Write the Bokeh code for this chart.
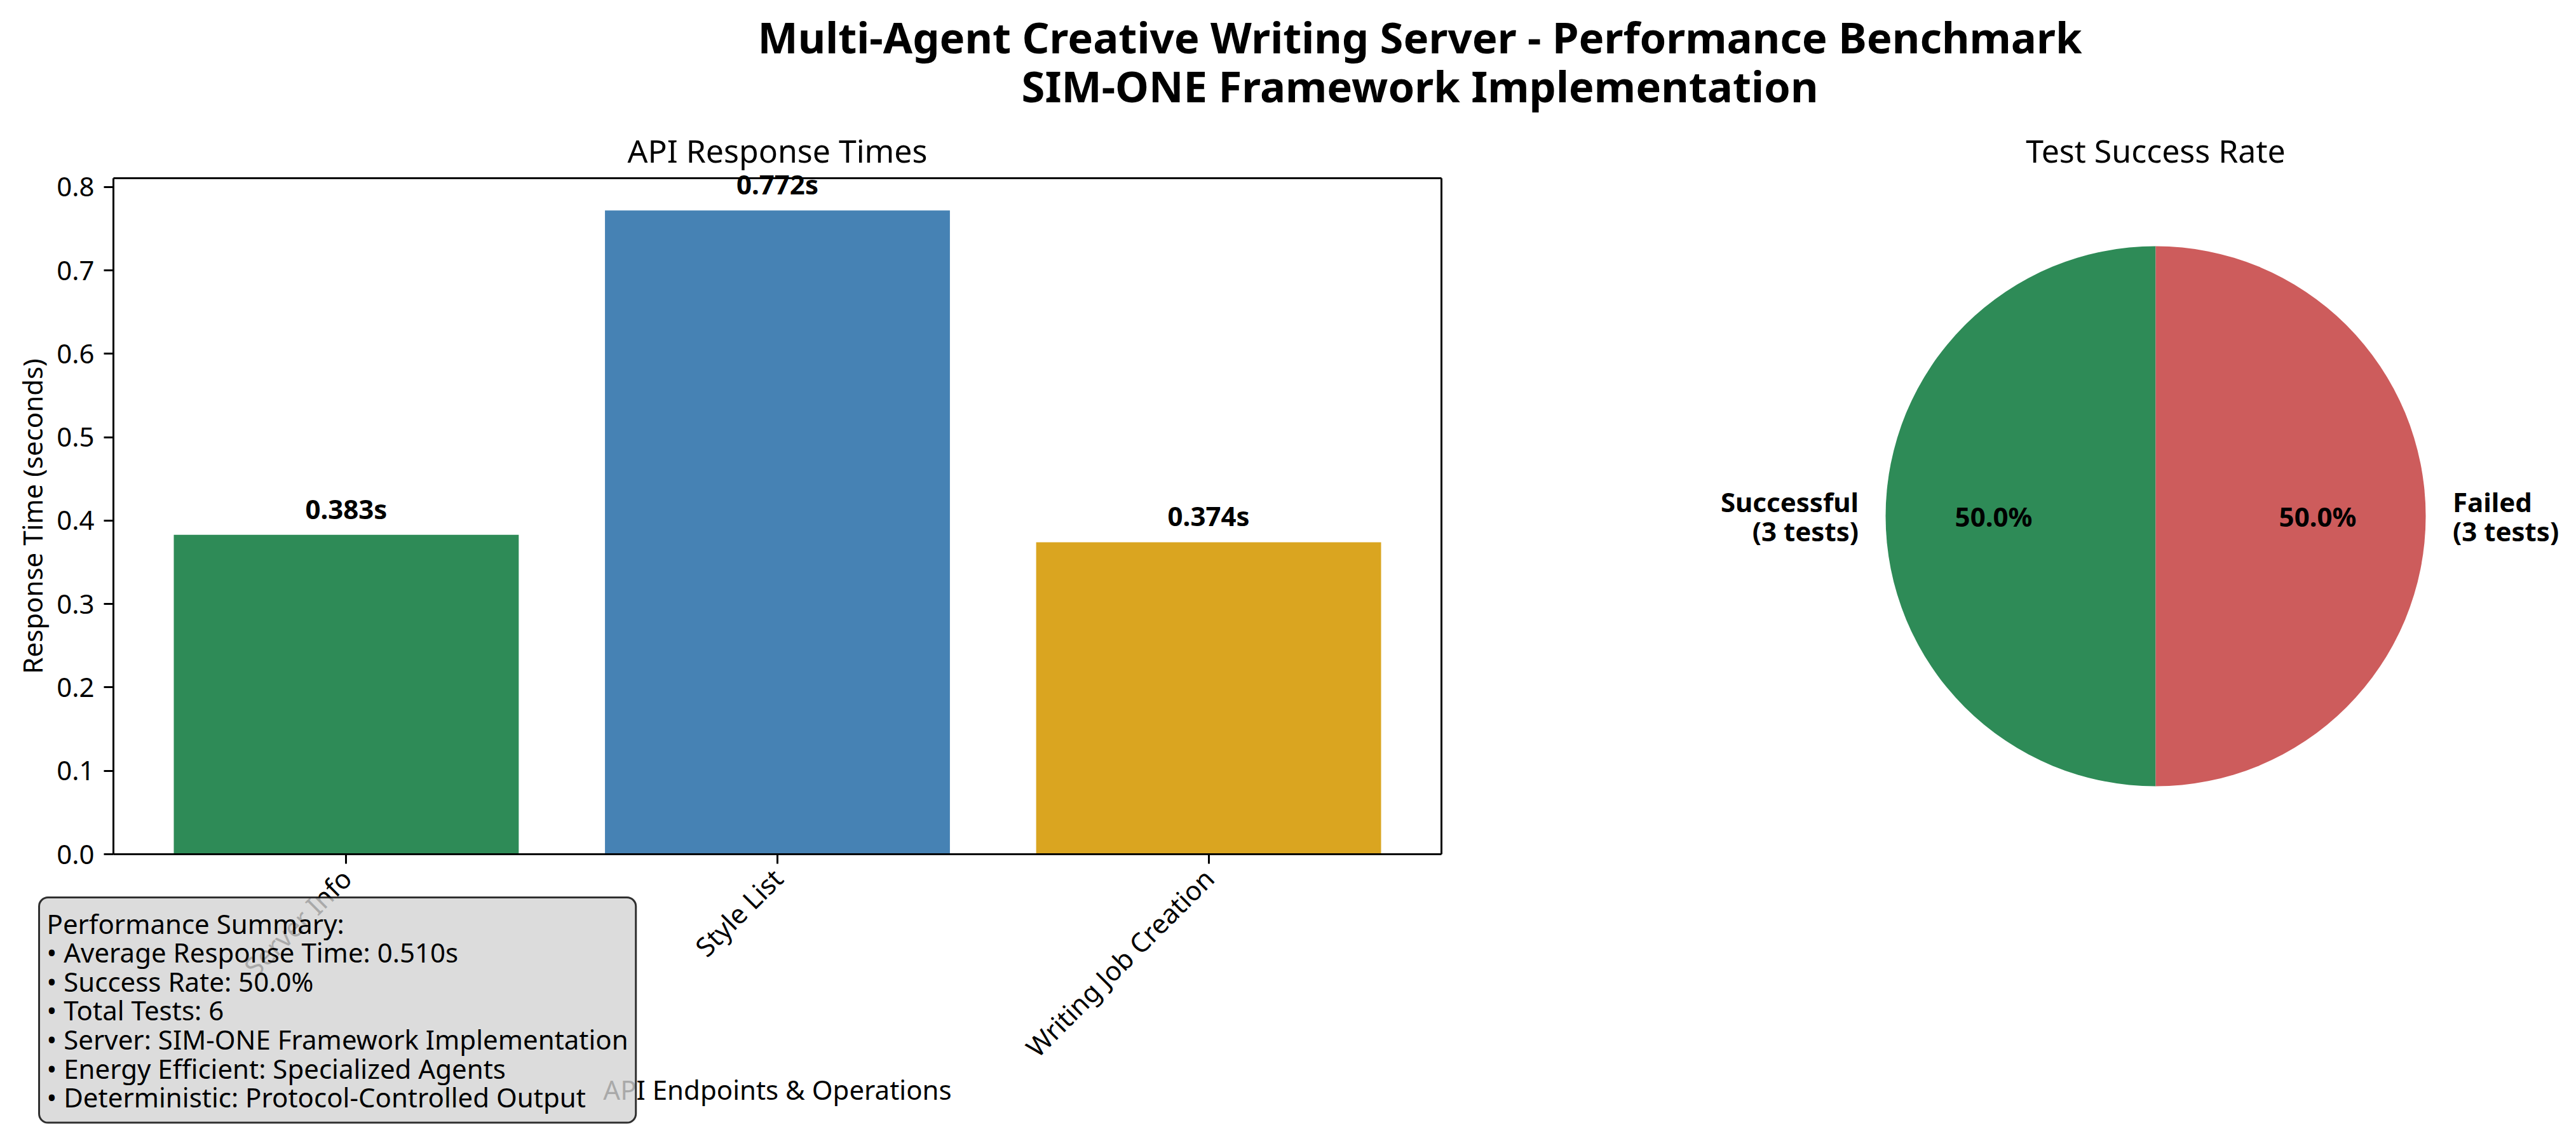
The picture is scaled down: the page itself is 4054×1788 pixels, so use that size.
import math
from bokeh.plotting import figure
from bokeh.models import (Range1d, FixedTicker, PrintfTickFormatter, Label,
                          LabelSet, ColumnDataSource, LinearAxis)
from bokeh.layouts import column, row
from bokeh.embed import file_html
from bokeh.resources import INLINE
from bokeh.core.properties import value

# ---------------- data ----------------
endpoints = ["Server Info", "Style List", "Writing Job Creation"]
response_times = [0.383, 0.772, 0.374]
bar_colors = ["#2E8B57", "#4682B4", "#DAA520"]

outcomes = ["Successful", "Failed"]
outcome_counts = [3, 3]
pie_colors = ["#2E8B57", "#CD5C5C"]

y_ticks = [0.0, 0.1, 0.2, 0.3, 0.4, 0.5, 0.6, 0.7, 0.8]

suptitle_lines = ["Multi-Agent Creative Writing Server - Performance Benchmark",
                  "SIM-ONE Framework Implementation"]
bar_title = "API Response Times"
pie_title = "Test Success Rate"
x_label = "API Endpoints & Operations"
y_label = "Response Time (seconds)"

avg_time = sum(response_times) / len(response_times)
total_tests = sum(outcome_counts)
success_rate = 100.0 * outcome_counts[0] / total_tests
summary_lines = [
    "Performance Summary:",
    f"\u2022 Average Response Time: {avg_time:.3f}s",
    f"\u2022 Success Rate: {success_rate:.1f}%",
    f"\u2022 Total Tests: {total_tests}",
    "\u2022 Server: SIM-ONE Framework Implementation",
    "\u2022 Energy Efficient: Specialized Agents",
    "\u2022 Deterministic: Protocol-Controlled Output",
]

FONT_NAME = "Noto Sans"
FONT = value(FONT_NAME)


def bare(fig):
    fig.outline_line_color = None
    fig.background_fill_color = "white"
    fig.border_fill_color = "white"


def text_label(x, y, text, size, bold=False, **kw):
    return Label(x=x, y=y, text=text, text_align=kw.pop("align", "center"),
                 text_baseline=kw.pop("baseline", "middle"), text_font=FONT_NAME,
                 text_font_size=size, text_font_style="bold" if bold else "normal",
                 text_color="black", text_line_height=1.0, **kw)


# ---------------- suptitle strip ----------------
TW, TH = 4046, 200
tf = figure(width=TW, height=TH, x_range=Range1d(0, TW), y_range=Range1d(0, TH),
            x_axis_type=None, y_axis_type=None, output_backend="svg",
            toolbar_location=None, min_border=0)
bare(tf)
for line, cap_mid in zip(suptitle_lines, (57, 134)):
    tf.add_layout(text_label(2234, TH - cap_mid, line, "67px", bold=True))

# ---------------- bar chart ----------------
BW, BH = 2446, 1586
# wanted pixel box of the axes area, relative to the figure's top-left
PL, PR, PT, PB = 178, 2268, 80, 1144
xl, xr = -0.54, len(endpoints) - 1 + 0.54
y1 = max(response_times) * 1.05
ppx = (PR - PL) / (xr - xl)
ppy = (PB - PT) / y1
bx_start, bx_end = xl - PL / ppx, xr + (BW - PR) / ppx
by_start, by_end = -(BH - PB) / ppy, y1 + PT / ppy


def X(px):
    return bx_start + px / ppx


def Y(py):
    return by_end - py / ppy


bf = figure(width=BW, height=BH, x_range=Range1d(bx_start, bx_end),
            y_range=Range1d(by_start, by_end), x_axis_type=None, y_axis_type=None,
            output_backend="svg", toolbar_location=None, min_border=0)
bare(bf)

idx = list(range(len(endpoints)))
bsrc = ColumnDataSource(dict(
    x=idx, top=response_times, color=bar_colors,
    label=[f"{v:.3f}s" for v in response_times],
    ly=[v + 0.01 for v in response_times]))
bf.vbar(x="x", top="top", width=0.8, fill_color="color", line_color=None, source=bsrc)


def style_axis(ax):
    ax.major_label_text_font = FONT_NAME
    ax.major_label_text_font_size = "42px"
    ax.major_label_text_color = "black"
    ax.major_tick_out = 15
    ax.major_tick_in = 0
    ax.major_tick_line_width = 3
    ax.major_tick_line_color = "black"
    ax.minor_tick_line_color = None
    ax.axis_line_width = 3
    ax.axis_line_color = "black"
    ax.major_label_standoff = 15


yaxis = LinearAxis(fixed_location=xl, bounds=(0, y1), ticker=FixedTicker(ticks=y_ticks),
                   formatter=PrintfTickFormatter(format="%.1f"))
style_axis(yaxis)
bf.add_layout(yaxis, "left")

xaxis = LinearAxis(fixed_location=0, bounds=(xl, xr), ticker=FixedTicker(ticks=idx))
style_axis(xaxis)
xaxis.major_label_overrides = {i: name for i, name in enumerate(endpoints)}
xaxis.major_label_orientation = math.pi / 4
bf.add_layout(xaxis, "below")

# right and top spines
raxis = LinearAxis(fixed_location=xr, bounds=(0, y1), ticker=FixedTicker(ticks=[]))
taxis = LinearAxis(fixed_location=y1, bounds=(xl, xr), ticker=FixedTicker(ticks=[]))
for ax, side in ((raxis, "right"), (taxis, "above")):
    style_axis(ax)
    ax.major_tick_line_color = None
    ax.major_label_text_font_size = "0px"
    bf.add_layout(ax, side)

bf.add_layout(LabelSet(x="x", y="ly", text="label", source=bsrc,
                       text_align="center", text_baseline="bottom",
                       text_font=FONT, text_font_style="bold",
                       text_font_size="42px", text_color="black"))

bf.add_layout(text_label((xl + xr) / 2, Y(36), bar_title, "50px"))
bf.add_layout(text_label((xl + xr) / 2, Y(1514), x_label, "42px"))
bf.add_layout(text_label(X(50), y1 / 2, y_label, "42px", angle=math.pi / 2))

bf.add_layout(Label(x=X(61), y=Y(1212), text="\n".join(summary_lines),
                    text_align="left", text_baseline="top",
                    text_font=FONT_NAME, text_font_size="42px",
                    text_color="black", text_line_height=0.8,
                    padding=12, border_radius=14,
                    background_fill_color="#d3d3d3", background_fill_alpha=0.8,
                    border_line_color="black", border_line_alpha=0.8,
                    border_line_width=3))

# ---------------- pie chart ----------------
PW, PH = 1600, 1586
scale = 425.0
cx, cy = 946, 612
pf = figure(width=PW, height=PH,
            x_range=Range1d(-cx / scale, (PW - cx) / scale),
            y_range=Range1d(-(PH - cy) / scale, cy / scale),
            x_axis_type=None, y_axis_type=None, output_backend="svg",
            toolbar_location=None, min_border=0)
bare(pf)

starts, ends, mids = [], [], []
acc = 0.0
for c in outcome_counts:
    s = math.pi / 2 + 2 * math.pi * acc / total_tests
    acc += c
    e = math.pi / 2 + 2 * math.pi * acc / total_tests
    starts.append(s)
    ends.append(e)
    mids.append((s + e) / 2)

psrc = ColumnDataSource(dict(
    start=starts, end=ends, color=pie_colors,
    lx=[1.1 * math.cos(m) for m in mids], ly=[1.1 * math.sin(m) for m in mids],
    px=[0.6 * math.cos(m) for m in mids], py=[0.6 * math.sin(m) for m in mids],
    label=[f"{o}\n({c} tests)" for o, c in zip(outcomes, outcome_counts)],
    align=["right" if math.cos(m) < 0 else "left" for m in mids],
    pct=[f"{100.0 * c / total_tests:.1f}%" for c in outcome_counts]))
pf.wedge(x=0, y=0, radius=1.0, start_angle="start", end_angle="end",
         fill_color="color", line_color=None, source=psrc)
pf.text(x="lx", y="ly", text="label", text_align="align", text_baseline="middle",
        text_font=FONT, text_font_style="bold", text_font_size="42px",
        text_color="black", text_line_height=0.8, source=psrc)
pf.text(x="px", y="py", text="pct", text_align="center", text_baseline="middle",
        text_font=FONT, text_font_style="bold", text_font_size="42px",
        text_color="black", text_line_height=1.0, source=psrc)
pf.add_layout(text_label(0, (cy - 36) / scale, pie_title, "50px"))

layout = column(tf, row(bf, pf))
open("out.html", "w").write(file_html(layout, INLINE))
